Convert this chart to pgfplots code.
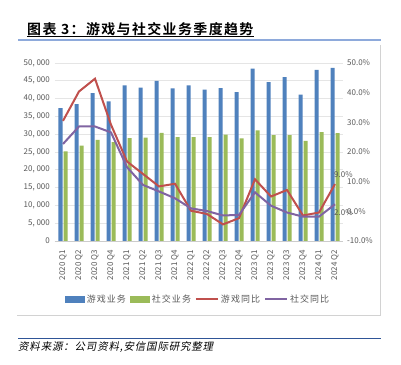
\documentclass[border=0pt]{standalone}
\usepackage{pgfplots}
\pgfplotsset{compat=1.18}
\usepackage{fontspec}
\setmainfont{Noto Sans CJK SC}
\newfontfamily\titlefont[LetterSpace=10]{Noto Sans CJK SC Bold}
\newfontfamily\srcfont[FakeSlant=0.2,LetterSpace=8]{Noto Sans CJK SC}
\newfontfamily\legfont[LetterSpace=12]{Noto Sans CJK SC}
\definecolor{barblue}{HTML}{4F81BD}
\definecolor{bargreen}{HTML}{9BBB59}
\definecolor{linered}{HTML}{C0504D}
\definecolor{linepurple}{HTML}{8064A2}
\definecolor{ruleblue}{HTML}{8EAADB}
\definecolor{srcblue}{HTML}{2F5597}
\definecolor{ticktext}{HTML}{595959}
\begin{document}
\begin{tikzpicture}[x=1bp,y=1bp]
\useasboundingbox (0,0) rectangle (401,365);
\fill[white] (0,0) rectangle (401,365);
% title
\node[anchor=base west, inner sep=0pt, font=\titlefont\fontsize{14}{16}\selectfont] (t) at (27,331) {图表 3：游戏与社交业务季度趋势};
\draw[line width=0.8bp] ([yshift=-2bp]t.base west) -- ([yshift=-2bp]t.base east);
\draw[ruleblue, line width=1.3bp] (18,325) -- (381,325);
% frame
\draw[gray!35, line width=0.8bp] (17,50) -- (380,50) -- (380,320);
% source
\draw[srcblue, line width=0.9bp] (18,26.7) -- (381,26.7);
\node[anchor=west, inner sep=0pt, font=\srcfont\fontsize{10.5}{12}\selectfont] at (18,17.5) {资料来源：公司资料,安信国际研究整理};

\begin{axis}[
  at={(55bp,124bp)}, anchor=south west, scale only axis,
  width=288bp, height=178bp,
  xmin=-0.5, xmax=17.5, ymin=0, ymax=50000,
  scaled y ticks=false,
  ybar=1bp, bar width=4bp,
  axis x line*=bottom, axis y line*=left,
  y axis line style={draw=none},
  x axis line style={draw=gray!40, line width=0.8bp},
  tick style={draw=none},
  ymajorgrids, grid style={gray!20, line width=0.8bp},
  ytick={0,5000,...,50000},
  yticklabels={0,{5, 000},{10, 000},{15, 000},{20, 000},{25, 000},{30, 000},{35, 000},{40, 000},{45, 000},{50, 000}},
  yticklabel style={font=\fontsize{8}{9}\selectfont, text=ticktext, anchor=east, inner sep=0pt, xshift=-5bp},
  xtick={0,...,17},
  xticklabels={2020 Q1,2020 Q2,2020 Q3,2020 Q4,2021 Q1,2021 Q2,2021 Q3,2021 Q4,2022 Q1,2022 Q2,2022 Q3,2022 Q4,2023 Q1,2023 Q2,2023 Q3,2023 Q4,2024 Q1,2024 Q2},
  xticklabel style={font=\fontsize{8}{9}\selectfont, text=ticktext, inner sep=0pt, yshift=-5bp, rotate=90, anchor=east},
  legend columns=4,
  legend style={at={(0.4965,-0.326)}, anchor=center, draw=none, fill=none,
    font=\legfont\fontsize{9}{10}\selectfont, text=ticktext,
    /tikz/every even column/.append style={column sep=2bp},
    inner sep=0pt, cells={anchor=west}},
]
\addplot[fill=barblue, draw=none, legend image code/.code={\fill[barblue] (0bp,-3.5bp) rectangle (20bp,3.5bp);}] coordinates {
(0,37300) (1,38450) (2,41550) (3,39200) (4,43700) (5,43050) (6,45000) (7,42850) (8,43700)
(9,42500) (10,42950) (11,41850) (12,48400) (13,44650) (14,46050) (15,41100) (16,48100) (17,48600)};
\addlegendentry{游戏业务}
\addplot[fill=bargreen, draw=none, legend image code/.code={\fill[bargreen] (0bp,-3.5bp) rectangle (20bp,3.5bp);}] coordinates {
(0,25150) (1,26800) (2,28400) (3,27750) (4,28900) (5,29050) (6,30400) (7,29150) (8,29150)
(9,29150) (10,29850) (11,28800) (12,31050) (13,29750) (14,29750) (15,28150) (16,30600) (17,30300)};
\addlegendentry{社交业务}
\addlegendimage{legend image code/.code={\draw[linered, line width=2bp] (0bp,0bp) -- (22bp,0bp);}}
\addlegendentry{游戏同比}
\addlegendimage{legend image code/.code={\draw[linepurple, line width=2bp] (0bp,0bp) -- (22bp,0bp);}}
\addlegendentry{社交同比}
\end{axis}

\begin{axis}[
  at={(55bp,124bp)}, anchor=south west, scale only axis,
  width=288bp, height=178bp,
  xmin=-0.5, xmax=17.5, ymin=-10, ymax=50,
  clip=false,
  axis x line=none, axis y line*=right,
  y axis line style={draw=none},
  tick style={draw=none},
  ytick={-10,0,...,50},
  yticklabels={-10.0\%,0.0\%,10.0\%,20.0\%,30.0\%,40.0\%,50.0\%},
  yticklabel style={font=\fontsize{8}{9}\selectfont, text=ticktext, anchor=west, inner sep=0pt, xshift=4bp},
]
\addplot[linered, line width=2bp, no markers] coordinates {
(0,30.5) (1,40.4) (2,44.7) (3,29.2) (4,16.8) (5,12.6) (6,8.4) (7,9.3) (8,0.2)
(9,-0.9) (10,-4.4) (11,-2.3) (12,10.8) (13,5.0) (14,7.2) (15,-1.4) (16,-0.4) (17,9.2)};
\addplot[linepurple, line width=2bp, no markers] coordinates {
(0,22.7) (1,28.6) (2,28.6) (3,26.6) (4,14.9) (5,8.9) (6,6.7) (7,4.4) (8,1.0)
(9,0.1) (10,-1.4) (11,-1.2) (12,6.4) (13,1.9) (14,-0.4) (15,-1.8) (16,-1.8) (17,2.4)};
\node[anchor=west, inner sep=0pt, font=\fontsize{8}{9}\selectfont, text=ticktext, xshift=-1bp, yshift=9bp] at (axis cs:17,9.2) {9.0\%};
\node[anchor=west, inner sep=0pt, font=\fontsize{8}{9}\selectfont, text=ticktext, xshift=-1bp, yshift=-8bp] at (axis cs:17,2.4) {2.0\%};
\end{axis}
\end{tikzpicture}
\end{document}
